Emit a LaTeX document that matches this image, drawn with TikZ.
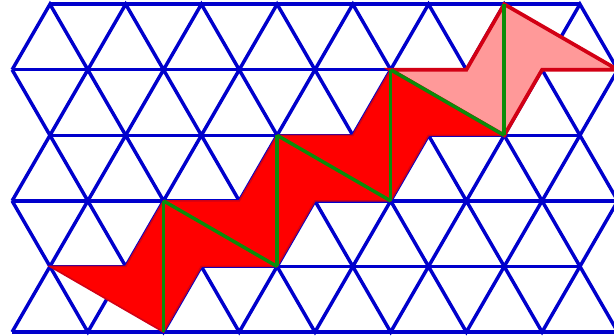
\documentclass[tikz,border=0pt]{standalone}
\definecolor{latblue}{RGB}{0,0,204}
\definecolor{tilered}{RGB}{255,0,0}
\definecolor{tileedge}{RGB}{210,0,20}
\definecolor{tilepink}{RGB}{255,153,153}
\definecolor{seamgreen}{RGB}{10,140,10}
\begin{document}
\begin{tikzpicture}[x=1cm, y=0.866cm,
    lattice/.style={latblue, line width=1.3pt},
    seam/.style={seamgreen, line width=1.3pt}]
    \useasboundingbox (-0.16,-0.053) rectangle (7.95,5.064);
    \clip (-0.16,-0.053) rectangle (7.95,5.064);
    % triangular lattice: horizontal rows
    \foreach \j in {0,2,4} \draw[lattice] (0,\j) -- (8,\j);
    \foreach \j in {1,3,5} \draw[lattice] (0.5,\j) -- (7.5,\j);
    % zigzags between the rows
    \foreach \j in {0,2,4}
        \draw[lattice] (0,\j) foreach \i in {0,...,7} {-- (\i+0.5,\j+1) -- (\i+1,\j)};
    \foreach \j in {1,3}
        \draw[lattice] (0,\j+1) foreach \i in {0,...,7} {-- (\i+0.5,\j) -- (\i+1,\j+1)};
    % strip of tiles (solid part)
    \filldraw[fill=tilered, draw=tileedge, line width=0.6pt]
        (0.5,1) -- (1.5,1) -- (2,2) -- (3,2) -- (3.5,3) -- (4.5,3) -- (5,4)
        -- (6.5,3) -- (5.5,3) -- (5,2) -- (4,2) -- (3.5,1) -- (2.5,1) -- (2,0) -- cycle;
    % last tile, light
    \filldraw[fill=tilepink, draw=tileedge, line width=1.4pt]
        (5,4) -- (6,4) -- (6.5,5) -- (8,4) -- (7,4) -- (6.5,3) -- cycle;
    % seams between the tiles
    \foreach \x/\r in {2/0, 3.5/1, 5/2, 6.5/3}
        \draw[seam] (\x,\r+2) -- (\x,\r);
    \foreach \x/\r in {2/0, 3.5/1, 5/2}
        \draw[seam] (\x,\r+2) -- (\x+1.5,\r+1);
\end{tikzpicture}
\end{document}
